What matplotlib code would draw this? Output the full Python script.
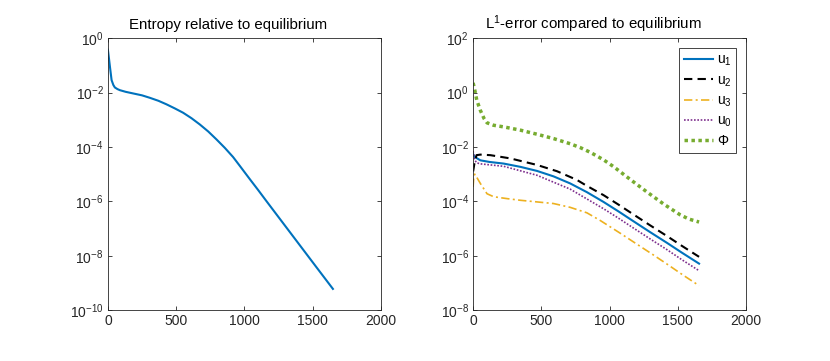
import numpy as np
import matplotlib
matplotlib.use("Agg")
import matplotlib.pyplot as plt

plt.rcParams['font.family'] = ['Liberation Sans', 'DejaVu Sans']
plt.rcParams['mathtext.fontset'] = 'custom'
plt.rcParams['mathtext.rm'] = 'Liberation Sans'
plt.rcParams['mathtext.it'] = 'Liberation Sans'
plt.rcParams['font.size'] = 10

# entropy curve (left), values stored as log10
ent_x = [0, 8, 15, 27, 40, 51, 70, 88, 130, 185, 250, 307, 370, 429, 490, 551,
         612, 673, 735, 795, 856, 917, 967, 1039, 1100, 1161, 1283, 1405, 1527, 1648]
ent_exp = [-0.42, -0.75, -1.05, -1.54, -1.72, -1.81, -1.87, -1.91, -1.97, -2.03,
           -2.10, -2.19, -2.30, -2.43, -2.58, -2.74, -2.94, -3.17, -3.43, -3.72,
           -4.03, -4.37, -4.70, -5.18, -5.58, -5.99, -6.80, -7.61, -8.42, -9.22]

# L1 errors (right), log10 values
u1_x = [0, 10, 30, 53, 120, 224, 346, 468, 589, 711, 833, 955, 1065, 1174, 1296, 1418, 1530, 1655]
u1_exp = [-2.26, -2.36, -2.42, -2.49, -2.55, -2.61, -2.73, -2.88, -3.08, -3.34,
          -3.66, -4.02, -4.37, -4.73, -5.13, -5.52, -5.89, -6.29]

u2_x = [0, 10, 25, 53, 126, 273, 468, 614, 760, 833, 955, 1065, 1174, 1296, 1418, 1530, 1655]
u2_exp = [-2.90, -2.60, -2.30, -2.28, -2.30, -2.42, -2.66, -2.89, -3.21, -3.43,
          -3.77, -4.12, -4.48, -4.88, -5.27, -5.64, -6.04]

u3_x = [0, 5, 12, 25, 53, 102, 151, 250, 346, 468, 589, 711, 833, 930, 1077,
        1174, 1320, 1418, 1540, 1655]
u3_exp = [-3.47, -3.10, -3.00, -3.10, -3.34, -3.72, -3.83, -3.90, -3.96, -4.02,
          -4.08, -4.22, -4.42, -4.70, -5.17, -5.49, -5.97, -6.30, -6.72, -7.10]

u0_x = [0, 10, 25, 53, 224, 468, 711, 833, 955, 1065, 1174, 1296, 1418, 1530, 1655]
u0_exp = [-2.15, -2.45, -2.58, -2.62, -2.71, -3.04, -3.55, -3.91, -4.27, -4.62,
          -4.98, -5.38, -5.77, -6.15, -6.55]

phi_x = [0, 10, 27, 53, 80, 102, 150, 224, 346, 468, 589, 711, 784, 860, 955,
         1028, 1150, 1272, 1396, 1515, 1580, 1655]
phi_exp = [0.36, 0.15, -0.28, -0.65, -0.95, -1.11, -1.20, -1.26, -1.38, -1.53,
           -1.69, -1.88, -2.02, -2.20, -2.47, -2.72, -3.19, -3.65, -4.10, -4.49,
           -4.65, -4.76]

axcol = '#262626'

fig = plt.figure(figsize=(8.3, 3.61), dpi=100)
ax1 = fig.add_axes([0.130, 0.141, 0.329, 0.753])
ax2 = fig.add_axes([0.570, 0.141, 0.329, 0.753])

ax1.semilogy(ent_x, 10.0 ** np.array(ent_exp), color='#0072BD', lw=1.5)

ax2.semilogy(u1_x, 10.0 ** np.array(u1_exp), color='#0072BD', lw=1.5, ls='-', label='u$_1$')
ax2.semilogy(u2_x, 10.0 ** np.array(u2_exp), color='k', lw=1.5, ls=(0, (4, 2.5)), label='u$_2$')
ax2.semilogy(u3_x, 10.0 ** np.array(u3_exp), color='#EDB120', lw=1.2, ls=(0, (5, 2, 1.2, 2)), label='u$_3$')
ax2.semilogy(u0_x, 10.0 ** np.array(u0_exp), color='#7E2F8E', lw=1.2, ls=(0, (1, 1)), label='u$_0$')
ax2.semilogy(phi_x, 10.0 ** np.array(phi_exp), color='#77AC30', lw=2.5, ls=(0, (1, 1)), label='$\\Phi$')

ax1.set_ylim(1e-10, 1)
ax1.set_yticks([1e-10, 1e-8, 1e-6, 1e-4, 1e-2, 1])
ax2.set_ylim(1e-8, 1e2)
ax2.set_yticks([1e-8, 1e-6, 1e-4, 1e-2, 1, 1e2])

for ax in (ax1, ax2):
    ax.set_xlim(0, 2000)
    ax.set_xticks([0, 500, 1000, 1500, 2000])
    ax.minorticks_off()
    ax.tick_params(direction='in', length=3, width=0.6, top=True, right=True,
                   colors=axcol, labelsize=10, pad=3)
    for s in ax.spines.values():
        s.set_color(axcol)
        s.set_linewidth(0.6)

ax1.set_title('Entropy relative to equilibrium', fontsize=10.8, color='k', pad=6.5, x=0.44)
ax2.set_title('L$^1$-error compared to equilibrium', fontsize=10.8, color='k', pad=6.5, x=0.44)

leg = ax2.legend(loc='upper right', fancybox=False, edgecolor=axcol, framealpha=1,
                 handlelength=2.1, handletextpad=0.25, borderpad=0.35,
                 labelspacing=0.35, borderaxespad=0.7, fontsize=10)
leg.get_frame().set_linewidth(0.6)

fig.savefig('out.png', dpi=100)
